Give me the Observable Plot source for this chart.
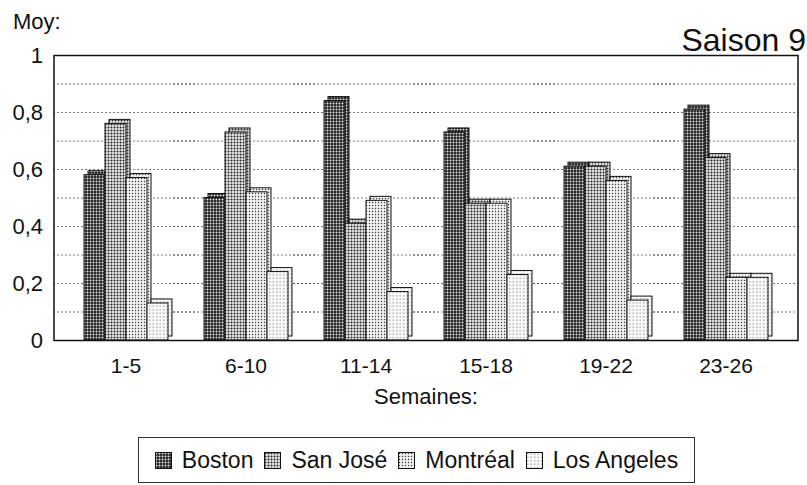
<!DOCTYPE html>
<html>
<head>
<meta charset="utf-8">
<script src="https://cdn.jsdelivr.net/npm/d3@7"></script>
<script src="https://cdn.jsdelivr.net/npm/@observablehq/plot@0.6"></script>
<style>
  body { margin: 0; background: #fff; font-family: "Liberation Sans", Arial, sans-serif; }
  #legend { margin: 12px 0 0 138px; width: 557px; height: 46px; border: 1px solid #333; box-sizing: border-box;
            display: flex; align-items: center; justify-content: center; gap: 11px; font-size: 23px; color: #111; }
  #legend span.item { display: inline-flex; align-items: center; gap: 10px; }
</style>
</head>
<body>
<svg width="0" height="0" style="position:absolute">
  <defs>
    <pattern id="pBoston" width="3" height="3" patternUnits="userSpaceOnUse">
      <rect width="3" height="3" fill="#222"/><circle cx="1.5" cy="1.5" r="0.95" fill="#e8e8e8"/>
    </pattern>
    <pattern id="pSanJose" width="3" height="3" patternUnits="userSpaceOnUse">
      <rect width="3" height="3" fill="#e6e6e6"/><circle cx="1.5" cy="1.5" r="1.0" fill="#222"/>
    </pattern>
    <pattern id="pMontreal" width="3" height="3" patternUnits="userSpaceOnUse">
      <rect width="3" height="3" fill="#f0f0f0"/><circle cx="1.5" cy="1.5" r="0.7" fill="#333"/>
    </pattern>
    <pattern id="pLosAngeles" width="3.5" height="3.5" patternUnits="userSpaceOnUse">
      <rect width="3.5" height="3.5" fill="#fafafa"/><circle cx="1.75" cy="1.75" r="0.55" fill="#555"/>
    </pattern>
  </defs>
</svg>
<div id="chart"></div>
<div id="legend"></div>
<script>
const weeks = ["1-5", "6-10", "11-14", "15-18", "19-22", "23-26"];
const cities = ["Boston", "San José", "Montréal", "Los Angeles"];
const boston     = [0.58, 0.50, 0.84, 0.73, 0.61, 0.81];
const sanJose    = [0.76, 0.73, 0.41, 0.48, 0.61, 0.64];
const montreal   = [0.57, 0.52, 0.49, 0.48, 0.56, 0.22];
const losAngeles = [0.13, 0.24, 0.17, 0.23, 0.14, 0.22];
const yTicks = [0, 0.2, 0.4, 0.6, 0.8, 1];
const gridLevels = [0.1, 0.2, 0.3, 0.4, 0.5, 0.6, 0.7, 0.8, 0.9];
const patterns = ["url(#pBoston)", "url(#pSanJose)", "url(#pMontreal)", "url(#pLosAngeles)"];

const series = [boston, sanJose, montreal, losAngeles];
const data = [];
weeks.forEach((w, i) => cities.forEach((c, j) => data.push({week: w, city: c, value: series[j][i]})));

// layout constants (styling only)
const W = 807, H = 425, mL = 53, mR = 10, mT = 55, mB = 85;
const padIn = 0.275, padOut = 0.2375;
const step = (W - mL - mR) / (weeks.length - padIn + 2 * padOut);
const ext = padOut * step; // outer padding: facet area excludes it, so extend back

const chart = Plot.plot({
  width: W,
  height: H,
  marginLeft: mL,
  marginRight: mR,
  marginTop: mT,
  marginBottom: mB,
  style: {fontFamily: "Liberation Sans, Arial, sans-serif", fontSize: "21px", color: "#111", background: "transparent"},
  fx: {domain: weeks, paddingInner: padIn, paddingOuter: padOut, label: null},
  x: {domain: cities, padding: 0, axis: null},
  y: {domain: [0, 1], label: null},
  color: {domain: cities, range: patterns},
  marks: [
    Plot.ruleY(gridLevels, {stroke: "#222", strokeWidth: 1, strokeDasharray: "1.2,2.8", insetLeft: -ext, insetRight: -ext}),
    Plot.barY(data, {fx: "week", x: "city", y: "value", fill: "city", stroke: "#111", strokeWidth: 1, dx: 4, dy: -4}),
    Plot.barY(data, {fx: "week", x: "city", y: "value", fill: "city", stroke: "#111", strokeWidth: 1}),
    Plot.frame({facet: "super", stroke: "#111", strokeWidth: 1.5, insetLeft: -ext, insetRight: -ext}),
    Plot.axisY(yTicks, {tickSize: 0, tickPadding: 11 + ext, tickFormat: d => String(d).replace(".", ","), fontSize: 22, label: null}),
    Plot.axisFx({anchor: "bottom", tickSize: 0, tickPadding: 18, fontSize: 21, label: null}),
    Plot.text(["Semaines:"], {facet: "super", frameAnchor: "bottom", lineAnchor: "bottom", dy: 63, fontSize: 22}),
    Plot.text(["Moy:"], {facet: "super", frameAnchor: "top-left", lineAnchor: "bottom", dx: -ext - 41, dy: -27, textAnchor: "start", fontSize: 22}),
    Plot.text(["Saison 9"], {facet: "super", frameAnchor: "top-right", lineAnchor: "bottom", dx: ext + 8, dy: -5, textAnchor: "end", fontSize: 32})
  ]
});
document.getElementById("chart").appendChild(chart);

const legend = document.getElementById("legend");
cities.forEach((c, j) => {
  const item = document.createElement("span");
  item.className = "item";
  item.innerHTML = `<svg width="17" height="17"><rect x="0.5" y="0.5" width="16" height="16" fill="${patterns[j]}" stroke="#111"/></svg><span>${c}</span>`;
  legend.appendChild(item);
});
</script>
</body>
</html>
